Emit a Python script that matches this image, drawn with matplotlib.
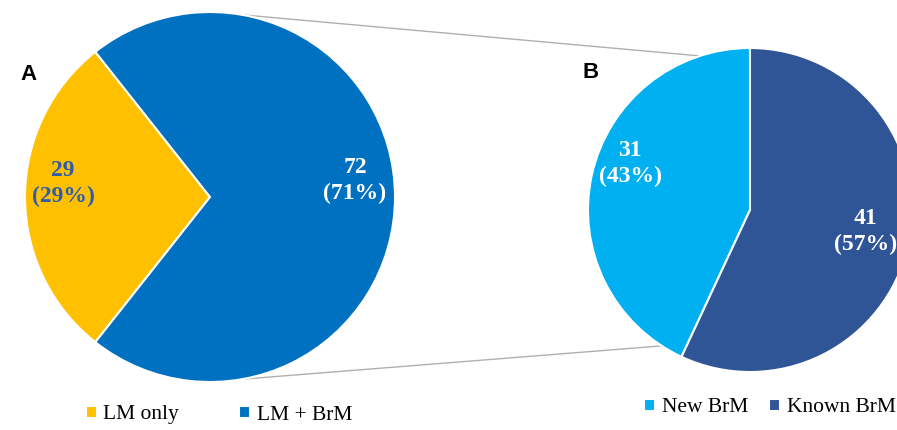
import matplotlib
matplotlib.use("Agg")
import matplotlib.pyplot as plt
import numpy as np

# data
a_labels = ["LM only", "LM + BrM"]
a_values = [29, 72]
a_colors = ["#FFC000", "#0070C0"]

b_labels = ["New BrM", "Known BrM"]
b_values = [31, 41]
b_colors = ["#00B0F0", "#2F5597"]

W, H = 897, 430
fig = plt.figure(figsize=(W / 100, H / 100), dpi=100)
ax = fig.add_axes([0, 0, 1, 1])

serif = "Liberation Serif"

# pixel helpers (y measured from top)
def py(y):
    return H - y

a_center = (210, py(197))
a_radius = 185
b_center = (750, py(210))
b_radius = 162

# pie A, LM only centered on the left side
a_start = 180 - 360 * a_values[0] / sum(a_values) / 2
wa, _ = ax.pie(a_values, colors=a_colors, startangle=a_start, center=a_center,
               radius=a_radius, wedgeprops=dict(edgecolor="white", linewidth=1.5))

# pie B
wb, _ = ax.pie(b_values, colors=b_colors, startangle=90, center=b_center,
               radius=b_radius, wedgeprops=dict(edgecolor="white", linewidth=1.5))

# connector lines between the two pies
def on_circle(c, r, deg):
    t = np.deg2rad(deg)
    return c[0] + r * np.cos(t), c[1] + r * np.sin(t)

for da, db in [(80, 108), (-80, 237)]:
    x1, y1 = on_circle(a_center, a_radius, da)
    x2, y2 = on_circle(b_center, b_radius, db)
    ax.plot([x1, x2], [y1, y2], color="#B0B0B0", lw=1, zorder=0)

# value labels
def lab(v, tot):
    return f"{v}\n({round(100 * v / tot)}%)"

a_pos = [(63, py(184)), (355, py(181))]
a_txtc = ["#2F5DA8", "white"]
for v, p, c in zip(a_values, a_pos, a_txtc):
    ax.text(p[0], p[1], lab(v, sum(a_values)), ha="center", va="center",
            fontsize=17, fontweight="bold", family=serif, color=c, linespacing=1.3)

b_pos = [(630, py(164)), (866, py(232))]
for v, p in zip(b_values, b_pos):
    ax.text(p[0], p[1], lab(v, sum(b_values)), ha="center", va="center",
            fontsize=17, fontweight="bold", family=serif, color="white", linespacing=1.3)

# panel letters
ax.text(28, py(75), "A", ha="center", va="center", fontsize=16,
        fontweight="bold", family="Liberation Sans")
ax.text(591, py(72), "B", ha="center", va="center", fontsize=16,
        fontweight="bold", family="Liberation Sans")

ax.set_xlim(0, W)
ax.set_ylim(0, H)
ax.set_aspect("equal")
ax.axis("off")

leg_kw = dict(ncol=2, frameon=False, handlelength=0.5, handleheight=0.5,
              handletextpad=0.3, prop={"family": serif, "size": 15.5},
              borderaxespad=0, borderpad=0)
leg1 = ax.legend(wa, a_labels, loc="center", bbox_to_anchor=(219 / W, 1 - 415 / H),
                 columnspacing=2.8, **leg_kw)
ax.add_artist(leg1)
ax.legend(wb, b_labels, loc="center", bbox_to_anchor=(770 / W, 1 - 408 / H),
          columnspacing=1.0, **leg_kw)

fig.savefig("out.png", dpi=100)
